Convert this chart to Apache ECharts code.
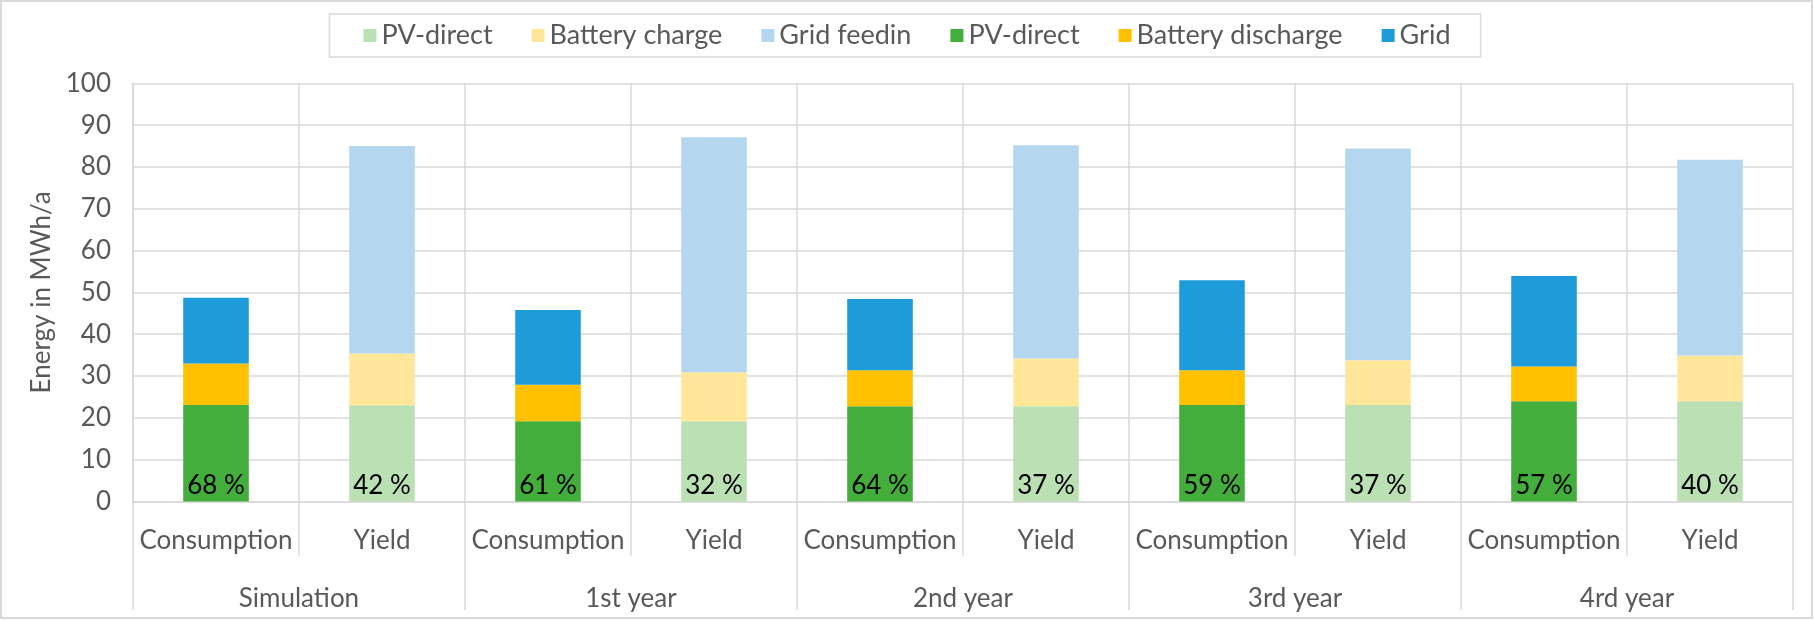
<!DOCTYPE html>
<html>
<head>
<meta charset="utf-8">
<script src="https://cdn.jsdelivr.net/npm/echarts@6/dist/echarts.min.js"></script>
<style>
html,body{margin:0;padding:0;background:#fff;}
#chart{width:1814px;height:620px;}
</style>
</head>
<body>
<div id="chart"></div>
<script>
// ---- data ----
const groups = ['Simulation', '1st year', '2nd year', '3rd year', '4rd year'];
const barKinds = ['Consumption', 'Yield'];
const consPV = [23.1, 19.2, 22.8, 23.1, 24.0];
const consBattery = [9.9, 8.7, 8.6, 8.3, 8.3];
const consGrid = [15.7, 17.9, 17.0, 21.5, 21.6];
const yieldPV = [23.0, 19.2, 22.8, 23.1, 24.0];
const yieldBattery = [12.4, 11.7, 11.4, 10.7, 10.9];
const yieldFeedin = [49.6, 56.2, 51.0, 50.6, 46.8];
const consPct = ['68 %', '61 %', '64 %', '59 %', '57 %'];
const yieldPct = ['42 %', '32 %', '37 %', '37 %', '40 %'];
const yTicks = [0, 10, 20, 30, 40, 50, 60, 70, 80, 90, 100];

// ---- build ----
const categories = [];
groups.forEach(() => barKinds.forEach(k => categories.push(k)));
function atCons(arr) { const out = []; arr.forEach(v => { out.push(v); out.push('-'); }); return out; }
function atYield(arr) { const out = []; arr.forEach(v => { out.push('-'); out.push(v); }); return out; }

const FONT = 'Lato';
const FS = 26;
const TXT = '#595959';
const GRID = '#d9d9d9';

function pvLabel(pcts) {
  return {
    show: true, position: 'insideBottom', distance: 3,
    color: '#000', fontFamily: FONT, fontSize: FS,
    formatter: p => pcts[Math.floor(p.dataIndex / 2)]
  };
}

const common = { type: 'bar', stack: 'total', barWidth: '39.5%', emphasis: { disabled: true } };

const series = [
  Object.assign({}, common, { name: 'PV-direct (yield)', data: atYield(yieldPV), itemStyle: { color: '#BAE0B4' }, label: pvLabel(yieldPct) }),
  Object.assign({}, common, { name: 'Battery charge', data: atYield(yieldBattery), itemStyle: { color: '#FFE699' } }),
  Object.assign({}, common, { name: 'Grid feedin', data: atYield(yieldFeedin), itemStyle: { color: '#B4D6EE' } }),
  Object.assign({}, common, { name: 'PV-direct (consumption)', data: atCons(consPV), itemStyle: { color: '#44AE3C' }, label: pvLabel(consPct) }),
  Object.assign({}, common, { name: 'Battery discharge', data: atCons(consBattery), itemStyle: { color: '#FFC000' } }),
  Object.assign({}, common, { name: 'Grid', data: atCons(consGrid), itemStyle: { color: '#1E9CD9' } })
];

const chart = echarts.init(document.getElementById('chart'), null, { renderer: 'canvas' });
chart.setOption({
  animation: false,
  backgroundColor: '#fff',
  textStyle: { fontFamily: FONT },
  graphic: [{
    type: 'rect', silent: true, z: -10,
    shape: { x: 1, y: 1, width: 1811, height: 617 },
    style: { fill: 'none', stroke: GRID, lineWidth: 2 }
  }],
  legend: {
    top: 14, left: 'center',
    data: series.map(s => s.name),
    formatter: n => n.replace(/ \(.*\)$/, ''),
    icon: 'rect', itemWidth: 13, itemHeight: 13, itemGap: 39,
    padding: [8, 30, 8, 34],
    borderColor: GRID, borderWidth: 1.5,
    textStyle: { color: TXT, fontFamily: FONT, fontSize: 27 },
    selectedMode: false
  },
  grid: { left: 133, right: 21, top: 83.3, bottom: 118.5, containLabel: false },
  xAxis: [{
    type: 'category', data: categories, position: 'bottom',
    axisLine: { show: true, lineStyle: { color: GRID, width: 1.5 } },
    axisTick: { show: true, interval: 0, length: 54, lineStyle: { color: GRID, width: 1.5 } },
    splitLine: { show: true, interval: 0, lineStyle: { color: GRID, width: 1.5 } },
    axisLabel: { interval: 0, margin: 26, color: TXT, fontFamily: FONT, fontSize: FS }
  }, {
    type: 'category', data: groups, position: 'bottom', offset: 0,
    axisLine: { show: false },
    axisTick: { show: true, interval: 0, length: 108.5, lineStyle: { color: GRID, width: 1.5 } },
    splitLine: { show: false },
    axisLabel: { interval: 0, margin: 84, color: TXT, fontFamily: FONT, fontSize: FS }
  }],
  yAxis: {
    type: 'value', min: yTicks[0], max: yTicks[yTicks.length - 1], interval: 10,
    name: 'Energy in MWh/a', nameLocation: 'middle', nameGap: 76, nameRotate: 90,
    nameTextStyle: { color: TXT, fontFamily: FONT, fontSize: FS },
    axisLine: { show: true, lineStyle: { color: GRID, width: 1.5 } },
    axisTick: { show: false },
    splitLine: { show: true, lineStyle: { color: GRID, width: 1.5 } },
    axisLabel: { margin: 22, color: TXT, fontFamily: FONT, fontSize: FS }
  },
  series: series
});
</script>
</body>
</html>
